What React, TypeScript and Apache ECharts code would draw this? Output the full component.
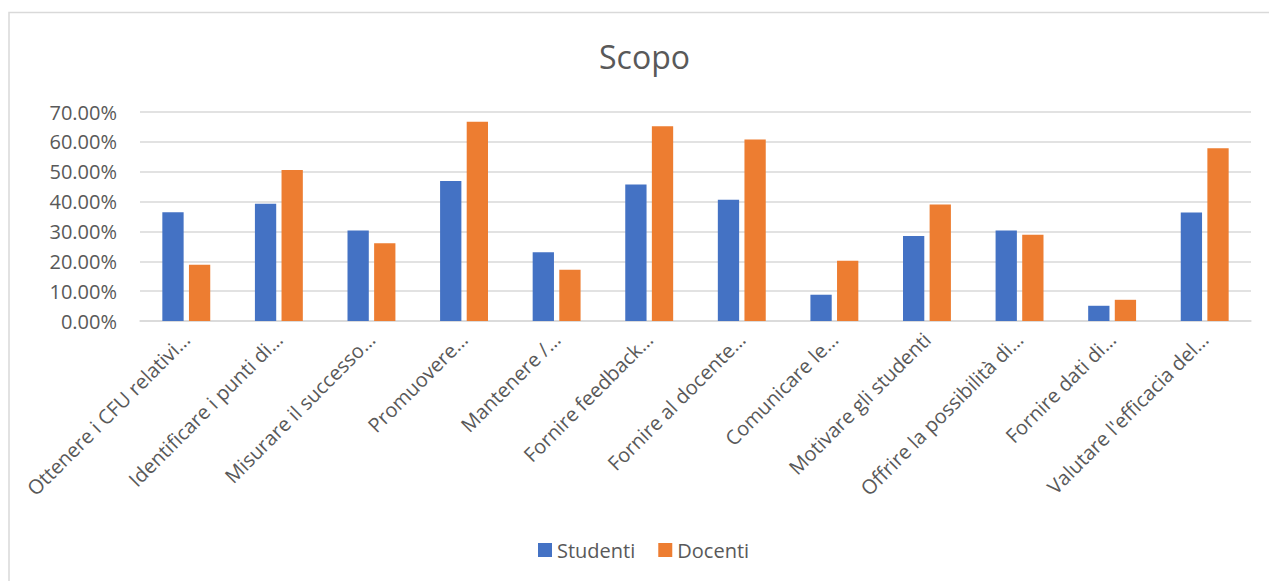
import React, { useEffect, useRef } from "react";
import * as echarts from "echarts";

// Purposes of the assessment (category axis)
const categories = [
  "Ottenere i CFU relativi…",
  "Identificare i punti di…",
  "Misurare il successo…",
  "Promuovere…",
  "Mantenere /…",
  "Fornire feedback…",
  "Fornire al docente…",
  "Comunicare le…",
  "Motivare gli studenti",
  "Offrire la possibilità di…",
  "Fornire dati di…",
  "Valutare l'efficacia del…",
];

// Share of respondents, in percent
const studenti = [36.4, 39.3, 30.3, 46.9, 23.0, 45.7, 40.6, 8.8, 28.5, 30.3, 5.1, 36.3];
const docenti = [18.8, 50.6, 26.0, 66.7, 17.2, 65.2, 60.8, 20.2, 39.0, 28.9, 7.1, 57.9];

const yTicks = { min: 0, max: 70, interval: 10 };

const FONT = "'Open Sans', 'Noto Sans', sans-serif";
const TEXT = "#595959";
const GRID = "#d9d9d9";

export default function App() {
  const ref = useRef<HTMLDivElement>(null);

  useEffect(() => {
    if (!ref.current) return;
    const chart = echarts.init(ref.current, null, { renderer: "svg" });
    chart.setOption({
      animation: false,
      backgroundColor: "#ffffff",
      textStyle: { fontFamily: FONT, color: TEXT },
      title: {
        text: "Scopo",
        left: 599,
        top: 36,
        padding: 0,
        textStyle: {
          fontFamily: FONT,
          fontSize: 32,
          fontWeight: "normal",
          color: TEXT,
          lineHeight: 40,
        },
      },
      legend: {
        data: ["Studenti", "Docenti"],
        left: 538,
        top: 540,
        padding: 0,
        itemWidth: 14,
        itemHeight: 14,
        itemGap: 23,
        icon: "rect",
        textStyle: { fontFamily: FONT, fontSize: 20, color: TEXT, padding: [0, 0, 0, 0] },
      },
      graphic: [
        {
          type: "rect",
          shape: { x: 9, y: 12.5, width: 1400, height: 700 },
          style: { fill: "none", stroke: GRID, lineWidth: 1.5 },
          silent: true,
          z: 0,
        },
      ],
      grid: { left: 140, right: 18, top: 112, bottom: 260, containLabel: false },
      xAxis: {
        type: "category",
        data: categories,
        axisLine: { show: true, lineStyle: { color: GRID, width: 1.5 } },
        axisTick: { show: false },
        axisLabel: {
          interval: 0,
          rotate: 45,
          margin: 15,
          fontFamily: FONT,
          fontSize: 20,
          color: TEXT,
        },
      },
      yAxis: {
        type: "value",
        min: yTicks.min,
        max: yTicks.max,
        interval: yTicks.interval,
        axisLine: { show: false },
        axisTick: { show: false },
        splitLine: { lineStyle: { color: GRID, width: 1.5 } },
        axisLabel: {
          margin: 23,
          fontFamily: FONT,
          fontSize: 20,
          color: TEXT,
          formatter: (v: number) => v.toFixed(2) + "%",
        },
      },
      series: [
        {
          name: "Studenti",
          type: "bar",
          data: studenti,
          barWidth: "23%",
          barGap: "25%",
          itemStyle: { color: "#4472C4" },
        },
        {
          name: "Docenti",
          type: "bar",
          data: docenti,
          barWidth: "23%",
          barGap: "25%",
          itemStyle: { color: "#ED7D31" },
        },
      ],
    });
    return () => chart.dispose();
  }, []);

  return (
    <div
      ref={ref}
      style={{ position: "fixed", left: 0, top: 0, width: 1269, height: 581, background: "#fff" }}
    />
  );
}
